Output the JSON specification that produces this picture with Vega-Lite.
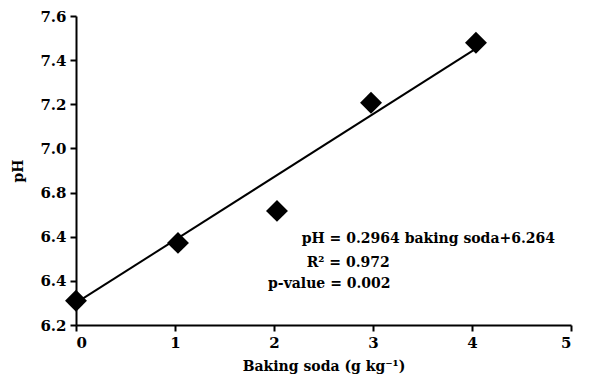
{
  "$schema": "https://vega.github.io/schema/vega-lite/v6.json",
  "width": 495,
  "height": 309,
  "autosize": "none",
  "padding": {"left": 76, "top": 16, "right": 19, "bottom": 65},
  "background": "white",
  "config": {
    "view": {"stroke": null},
    "font": "DejaVu Serif",
    "axis": {
      "grid": false,
      "domainColor": "black",
      "domainWidth": 2,
      "tickColor": "black",
      "tickWidth": 2,
      "tickSize": 6,
      "labelColor": "black",
      "labelFont": "DejaVu Serif",
      "labelFontWeight": "bold",
      "labelFontSize": 15,
      "titleFont": "DejaVu Serif",
      "titleFontWeight": "bold",
      "titleFontSize": 14,
      "titleColor": "black"
    }
  },
  "datasets": {
    "points": [
      {"soda": 0.0, "pH": 6.31},
      {"soda": 1.03, "pH": 6.572},
      {"soda": 2.03, "pH": 6.717},
      {"soda": 2.98, "pH": 7.207},
      {"soda": 4.04, "pH": 7.479}
    ],
    "fit": [
      {"soda": 0.0, "pH": 6.3},
      {"soda": 4.04, "pH": 7.452}
    ],
    "notes": [
      {"soda": 2.28, "pH": 6.572, "text": "pH = 0.2964 baking soda+6.264"},
      {"soda": 2.33, "pH": 6.463, "text": "R² = 0.972"},
      {"soda": 1.94, "pH": 6.368, "text": "p-value = 0.002"}
    ]
  },
  "layer": [
    {
      "data": {"name": "fit"},
      "mark": {"type": "line", "color": "black", "strokeWidth": 2},
      "encoding": {
        "x": {"field": "soda", "type": "quantitative", "scale": {"domain": [0, 5], "nice": false},
          "axis": {"values": [0, 1, 2, 3, 4, 5], "format": "d", "title": "Baking soda (g kg⁻¹)", "titlePadding": 9, "labelPadding": 4}},
        "y": {"field": "pH", "type": "quantitative", "scale": {"domain": [6.2, 7.6], "nice": false, "zero": false},
          "axis": {"values": [6.2, 6.4, 6.6, 6.8, 7.0, 7.2, 7.4, 7.6],
            "labelExpr": "abs(datum.value-6.6)<0.01 ? '6.4' : format(datum.value,'.1f')",
            "title": "pH", "titlePadding": 14, "labelPadding": 4}}
      }
    },
    {
      "data": {"name": "points"},
      "mark": {"type": "point", "shape": "diamond", "filled": true, "color": "black", "size": 480, "opacity": 1},
      "encoding": {
        "x": {"field": "soda", "type": "quantitative"},
        "y": {"field": "pH", "type": "quantitative"}
      }
    },
    {
      "data": {"name": "notes"},
      "mark": {"type": "text", "align": "left", "baseline": "alphabetic", "font": "DejaVu Serif", "fontWeight": "bold", "fontSize": 14, "color": "black"},
      "encoding": {
        "x": {"field": "soda", "type": "quantitative"},
        "y": {"field": "pH", "type": "quantitative"},
        "text": {"field": "text"}
      }
    }
  ]
}
